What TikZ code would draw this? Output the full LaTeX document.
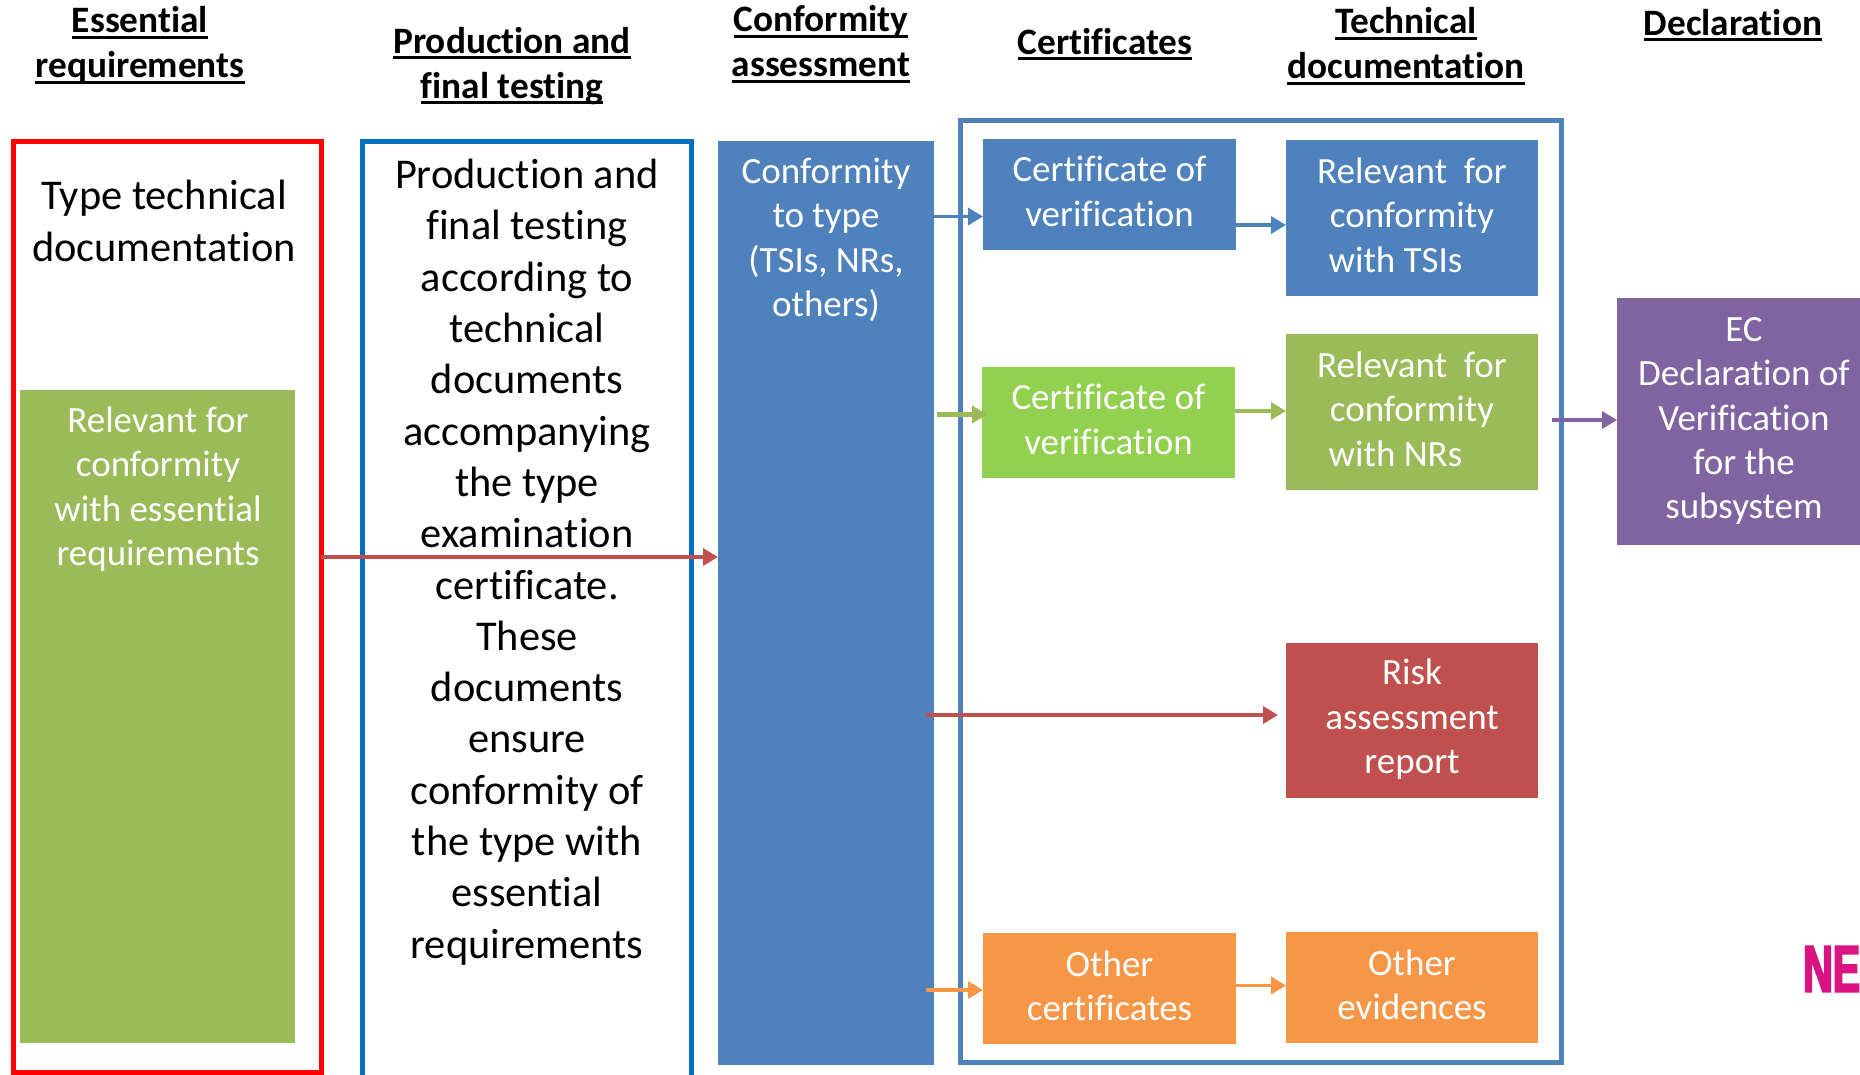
\documentclass[tikz,border=0pt]{standalone}
\usepackage{fontspec}
\setmainfont[Ligatures=NoCommon]{Carlito}
\newfontfamily\logofont[FakeStretch=0.62,FakeBold=3]{Liberation Sans}
\usetikzlibrary{arrows.meta}
\definecolor{officeblue}{HTML}{4F81BD}
\definecolor{officegreen}{HTML}{9BBB59}
\definecolor{brightgreen}{HTML}{92D050}
\definecolor{officered}{HTML}{C0504D}
\definecolor{officeorange}{HTML}{F79646}
\definecolor{officepurple}{HTML}{8064A2}
\definecolor{framedblue}{HTML}{0070C0}
\definecolor{logopink}{HTML}{D9137F}
\newsavebox{\headbox}
\newcommand{\headul}[1]{\sbox{\headbox}{#1}\rlap{\rule[-6pt]{\wd\headbox}{3pt}}\usebox{\headbox}}
\tikzset{
    headtext/.style={font=\fontsize{37.3}{45}\selectfont\bfseries,align=center,inner sep=0pt},
    bigtext/.style={font=\fontsize{42.4}{51.3}\selectfont,align=center,inner sep=0pt},
    boxtext/.style={font=\fontsize{37}{44.4}\selectfont,align=center,text=white,inner sep=0pt,yshift=3pt},
    fillbox/.style={fill=#1,anchor=north west,outer sep=0pt,inner sep=0pt},
    framebox/.style={draw=#1,line width=5pt,anchor=north west,outer sep=0pt,inner sep=0pt},
    flowline/.style={draw=#1,line width=3.5pt,-{Triangle[length=15pt,width=17pt]}},
}
\begin{document}
\begin{tikzpicture}[x=1pt,y=-1pt]
    \useasboundingbox (0,0) rectangle (1860,1075);
    % headings
    \node[headtext] (headess) at (140,45) {\headul{Essential}\\\headul{requirements}};
    \node[headtext] (headprod) at (512,66) {\headul{Production and}\\\headul{final testing}};
    \node[headtext] (headconf) at (821,44) {\headul{Conformity}\\\headul{assessment}};
    \node[headtext] (headcert) at (1105,44) {\headul{Certificates}};
    \node[headtext] (headtech) at (1406,46) {\headul{Technical}\\\headul{documentation}};
    \node[headtext] (headdecl) at (1733,25) {\headul{Declaration}};
    % columns
    \node[framebox=red,minimum width=308pt,minimum height=930pt] (redframe) at (13,142) {};
    \node[framebox=framedblue,minimum width=329pt,minimum height=960pt] (prodframe) at (362,142) {};
    \node[framebox=officeblue,minimum width=601pt,minimum height=941pt] (certframe) at (960,121) {};
    \node[fillbox=officegreen,minimum width=275pt,minimum height=653pt] (essbox) at (20,390) {};
    \node[fillbox=officeblue,minimum width=216pt,minimum height=924pt] (confbox) at (718,141) {};
    % text inside the columns
    \node[bigtext] (typetext) at (164,221) {Type technical\\documentation};
    \node[boxtext] (esstext) at (158,492) {Relevant for\\conformity\\with essential\\requirements};
    \node[boxtext] (conftext) at (826,243) {Conformity\\to type\\(TSIs, NRs,\\others)};
    \node[bigtext,anchor=north] (prodtext) at (527,159) {Production and\\final testing\\according to\\technical\\documents\\accompanying\\the type\\examination\\certificate.\\These\\documents\\ensure\\conformity of\\the type with\\essential\\requirements};
    % certificates and documentation
    \node[fillbox=officeblue,minimum width=253pt,minimum height=111pt] (certone) at (983,139) {};
    \node[boxtext] at (certone) {Certificate of\\verification};
    \node[fillbox=brightgreen,minimum width=253pt,minimum height=111pt] (certtwo) at (982,367) {};
    \node[boxtext] at (certtwo) {Certificate of\\verification};
    \node[fillbox=officeorange,minimum width=253pt,minimum height=111pt] (certoth) at (983,933) {};
    \node[boxtext] at (certoth) {Other\\certificates};
    \node[fillbox=officeblue,minimum width=252pt,minimum height=156pt] (relone) at (1286,140) {};
    \node[boxtext] at (relone) {Relevant\ \ for\\conformity\\with TSIs\hspace*{33pt}};
    \node[fillbox=officegreen,minimum width=252pt,minimum height=156pt] (reltwo) at (1286,334) {};
    \node[boxtext] at (reltwo) {Relevant\ \ for\\conformity\\with NRs\hspace*{33pt}};
    \node[fillbox=officered,minimum width=252pt,minimum height=155pt] (riskbox) at (1286,643) {};
    \node[boxtext,yshift=-2pt] at (riskbox) {Risk\\assessment\\report};
    \node[fillbox=officeorange,minimum width=252pt,minimum height=111pt] (reloth) at (1286,932) {};
    \node[boxtext] at (reloth) {Other\\evidences};
    \node[fillbox=officepurple,minimum width=243pt,minimum height=247pt] (decbox) at (1617,298) {};
    \node[boxtext] (dectext) at (1744,424) {EC\\Declaration of\\Verification\\for the\\subsystem};
    % logo at the page edge
    \node[font=\logofont\fontsize{66}{66}\selectfont\bfseries,text=logopink,anchor=west,inner sep=0pt] (logotext) at (1803,969) {NE};
    % connectors
    \coordinate (oneto) at ([yshift=-22pt]certone.west);
    \coordinate (relto) at ([yshift=-7pt]relone.west);
    \coordinate (twoto) at ([xshift=5pt,yshift=8pt]certtwo.west);
    \coordinate (greento) at ([yshift=1pt]reltwo.west);
    \coordinate (mainto) at ([yshift=46pt]confbox.west);
    \coordinate (riskto) at ([xshift=-8pt,yshift=5pt]riskbox.west);
    \coordinate (evito) at ([yshift=2pt]reloth.west);
    \coordinate (othfrom) at (926,990);
    \coordinate (riskfrom) at (926,715);
    \coordinate (decfrom) at (1552,420);
    \draw[flowline=officered] (redframe.east |- mainto) -- (mainto);
    \draw[flowline=officeblue] (confbox.east |- oneto) -- (oneto);
    \draw[flowline=officeblue] (certone.east |- relto) -- (relto);
    \draw[flowline=officegreen,line width=5pt] ([xshift=3pt]confbox.east |- twoto) -- (twoto);
    \draw[flowline=officegreen] (certtwo.east |- greento) -- (greento);
    \draw[flowline=officered] (riskfrom) -- (riskfrom -| riskto);
    \draw[flowline=officeorange] (othfrom) -- (othfrom -| certoth.west);
    \draw[flowline=officeorange] (certoth.east |- evito) -- (evito);
    \draw[flowline=officepurple] (decfrom) -- (decfrom -| decbox.west);
\end{tikzpicture}
\end{document}
